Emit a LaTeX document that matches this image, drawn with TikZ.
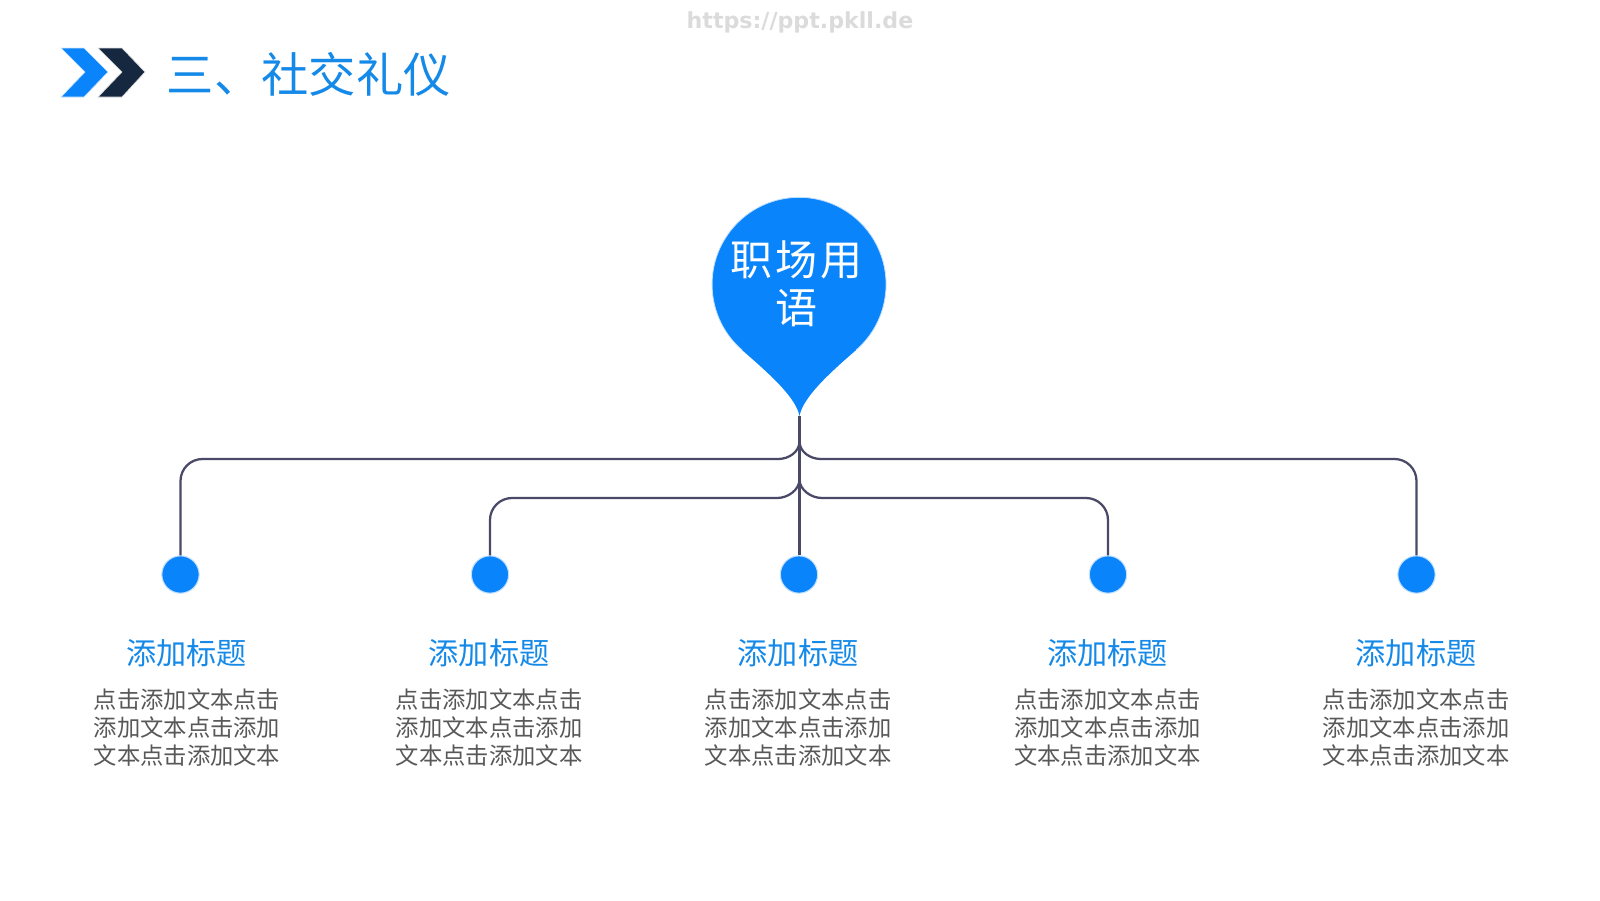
\documentclass[tikz,border=0pt]{standalone}
\usepackage{fontspec}
\usepackage{tikz}
\setmainfont{Noto Sans CJK SC}
\newfontfamily\cjkwide[LetterSpace=7]{Noto Sans CJK SC}
\newfontfamily\markfont{DejaVu Sans}
\definecolor{pinblue}{HTML}{0A84FA}
\definecolor{headblue}{HTML}{1589E8}
\definecolor{navy}{HTML}{15283F}
\definecolor{wirecol}{HTML}{4A4A68}
\definecolor{bodygray}{HTML}{585858}
\tikzset{
  wire/.style={draw=wirecol,line width=1.7pt},
  wirecorner/.style={rounded corners=16.5pt},
  dotnode/.style={circle,fill=pinblue,draw=pinblue!25,line width=0.8pt,minimum size=28pt,inner sep=0pt},
  headnode/.style={inner sep=0pt,text=headblue,font=\fontsize{22.6}{27}\selectfont},
  bodynode/.style={inner sep=0pt,align=center,text=bodygray,font=\fontsize{17.5}{21}\selectfont}
}

\begin{document}
\begin{tikzpicture}[x=0.75pt,y=0.75pt]
\useasboundingbox (0,-900) rectangle (1600,0);
\node (mark) [inner sep=0pt,text=black!14,font=\markfont\bfseries\fontsize{16.6}{20}\selectfont] at (800,-22) {https://ppt.pkll.de};
\fill [pinblue,draw=pinblue!20,line width=0.5pt] (61,-48) -- (84,-48) -- (108,-72) -- (84,-97) -- (61,-97) -- (85,-72) -- cycle;
\fill [navy,draw=black!12,line width=0.5pt] (98,-48) -- (122,-48) -- (145,-72) -- (122,-97) -- (98,-97) -- (122,-72) -- cycle;
\node (title) [anchor=west,inner sep=0pt,text=headblue,font=\fontsize{35.5}{42}\selectfont] at (166.5,-74) {三、社交礼仪};
\coordinate (tip) at (799.5,-416);
\node (dotA) [dotnode] at (180.5,-574.5) {};
\node (dotB) [dotnode] at (490,-574.5) {};
\node (dotC) [dotnode] at (799,-574.5) {};
\node (dotD) [dotnode] at (1108,-574.5) {};
\node (dotE) [dotnode] at (1416.5,-574.5) {};
\coordinate (splitU) at (799.5,-442);
\coordinate (splitL) at (799.5,-480);
\coordinate (barAL) at (778,-459);
\coordinate (barAR) at (821,-459);
\coordinate (barBL) at (777,-498);
\coordinate (barBR) at (822,-498);
\draw [wire] (tip) -- (tip |- dotC.north);
\draw [wire] (splitU) .. controls (799,-452) and (789,-459) .. (barAL) [wirecorner] -| (dotA);
\draw [wire] (splitU) .. controls (800,-452) and (810,-459) .. (barAR) [wirecorner] -| (dotE);
\draw [wire] (splitL) .. controls (799,-490) and (788,-498) .. (barBL) [wirecorner] -| (dotB);
\draw [wire] (splitL) .. controls (800,-490) and (811,-498) .. (barBR) [wirecorner] -| (dotD);
\fill [pinblue] (tip) .. controls (796,-398) and (772,-376) .. (742,-350) arc (229:-49:87) .. controls (826,-376) and (803,-398) .. (tip);
\draw [pinblue!25,line width=0.6pt] (742,-350) arc (229:-49:87);
\node (pin) [inner sep=0pt,align=center,text=white,font=\cjkwide\fontsize{31.5}{36}\selectfont] at (796.5,-284) {职场用\\语};
\node (headA) [headnode] at (186.5,-653.5) {添加标题};
\node (headB) [headnode] at (489,-653.5) {添加标题};
\node (headC) [headnode] at (798,-653.5) {添加标题};
\node (headD) [headnode] at (1107.5,-653.5) {添加标题};
\node (headE) [headnode] at (1416,-653.5) {添加标题};
\node (bodyA) [bodynode] at (187,-728) {点击添加文本点击\\添加文本点击添加\\文本点击添加文本};
\node (bodyB) [bodynode] at (489,-728) {点击添加文本点击\\添加文本点击添加\\文本点击添加文本};
\node (bodyC) [bodynode] at (798,-728) {点击添加文本点击\\添加文本点击添加\\文本点击添加文本};
\node (bodyD) [bodynode] at (1107.5,-728) {点击添加文本点击\\添加文本点击添加\\文本点击添加文本};
\node (bodyE) [bodynode] at (1416,-728) {点击添加文本点击\\添加文本点击添加\\文本点击添加文本};
\end{tikzpicture}
\end{document}
